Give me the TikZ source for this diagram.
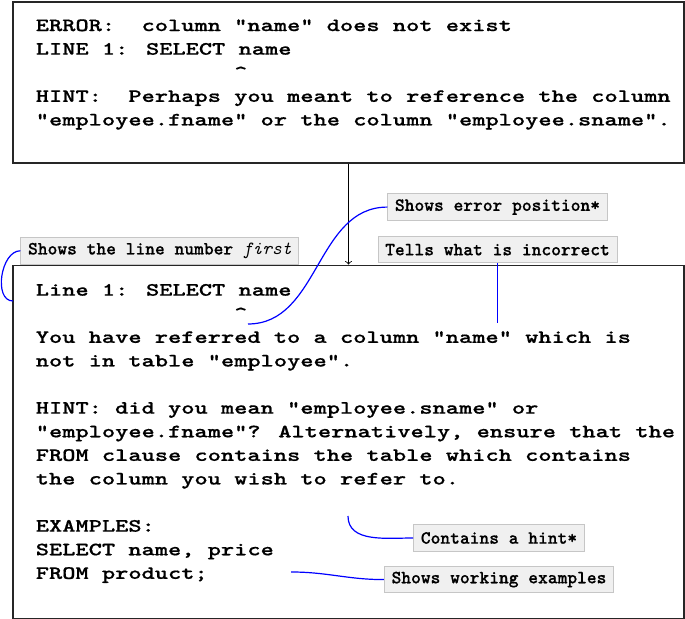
\documentclass[tikz,border=0pt]{standalone}
\usepackage{fontspec}
\newfontfamily\codefont{lmmonolt10-bold.otf}[FakeStretch=1.34,FakeBold=0.6,Ligatures=TeXOff]
\newfontfamily\notefont{lmmonolt10-bold.otf}[FakeBold=0.6,Ligatures=TeXOff]
\newfontfamily\noteit{lmmono10-italic.otf}[Ligatures=TeXOff]
\usetikzlibrary{positioning}
\tikzset{
    msgbox/.style={rectangle, draw=black!85, line width=0.6pt, minimum width=335.5pt, inner sep=0pt},
    msgtext/.style={inner sep=0pt, align=left, font=\codefont\fontsize{9.4}{11.8}\selectfont},
    note/.style={rectangle, draw=gray!45, fill=gray!12, line width=0.5pt, inner xsep=3.6pt, inner ysep=0pt, minimum height=13.3pt, font=\notefont\fontsize{9.3}{11}\selectfont},
    pointer/.style={draw=blue, line width=0.6pt},
}

\begin{document}
\begin{tikzpicture}[x=0.5pt, y=0.5pt]
    \useasboundingbox (0,0) rectangle (685,619);
    % error message as printed
    \node [msgbox, minimum height=80.5pt] (err) at (348.5,536.5) {};
    \node [msgtext, below right=8.8pt and 11.5pt of err.north west] (errtxt) {ERROR:~ column "name" does not exist\\
        LINE 1: SELECT name\\
        \phantom{LINE~1:~SELECT~}\textasciicircum\\
        HINT:~ Perhaps you meant to reference the column\\
        "employee.fname" or the column "employee.sname".};
    % improved message
    \node [msgbox, minimum height=176.5pt, below=50.5pt of err] (hint) {};
    \node [msgtext, below right=9.5pt and 11.5pt of hint.north west] (hinttxt) {Line 1: SELECT name\\
        \phantom{Line~1:~SELECT~}\textasciicircum\\
        You have referred to a column "name" which is\\
        not in table "employee".\\[11.8pt]
        HINT: did you mean "employee.sname" or\\
        "employee.fname"? Alternatively, ensure that the\\
        FROM clause contains the table which contains\\
        the column you wish to refer to.\\[11.8pt]
        EXAMPLES:\\
        SELECT name, price\\
        FROM product;};
    % notes
    \node [note, above right=0pt and 4pt of hint.north west] (linenote) {Shows the line number {\noteit first}};
    \node [note, anchor=south] (tellnote) at (497.5,355.5) {Tells what is incorrect};
    \node [note, above=7.5pt of tellnote] (posnote) {Shows error position*};
    \node [note] (hintnote) at (499,81) {Contains a hint*};
    \node [note, below=7pt of hintnote] (exnote) {Shows working examples};
    \coordinate (caret) at (248,295);
    \coordinate (lineend) at (13,318);
    \coordinate (telltip) at (497.5,296);
    \coordinate (hinttip) at (348,103);
    \coordinate (extip) at (291,47);
    \draw [->] (err) -- (hint);
    \draw [pointer] (posnote.west) to[out=180,in=0] (caret);
    \draw [pointer] (linenote.west) to[out=180,in=180] (lineend);
    \draw [pointer] (tellnote.south) -- (telltip);
    \draw [pointer] (hintnote.west) to[out=180,in=270] (hinttip);
    \draw [pointer] (exnote.west) to[out=180,in=0] (extip);
\end{tikzpicture}
\end{document}
